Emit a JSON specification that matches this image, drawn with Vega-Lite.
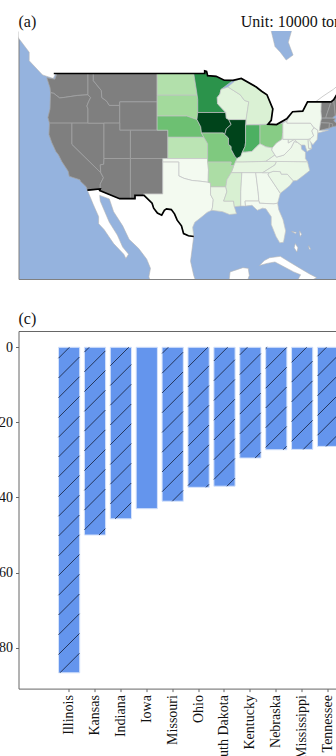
{"$schema":"https://vega.github.io/schema/vega-lite/v6.json","padding":{"left":-2.5,"top":13,"right":0,"bottom":0},"spacing":30,"background":"white","config":{"font":"Liberation Serif","title":{"font":"Liberation Serif","fontSize":16,"fontWeight":"normal","anchor":"start","offset":4,"color":"#111"}},
"datasets":{
"production":[{"s":"ND","v":32},{"s":"SD","v":37},{"s":"NE","v":52},{"s":"KS","v":29},{"s":"OK","v":3},{"s":"TX","v":3},{"s":"MN","v":72},{"s":"IA","v":100},{"s":"MO","v":47},{"s":"AR","v":34},{"s":"LA","v":10},{"s":"WI","v":14},{"s":"IL","v":100},{"s":"MS","v":18},{"s":"MI","v":17},{"s":"IN","v":60},{"s":"OH","v":45},{"s":"KY","v":14},{"s":"TN","v":12},{"s":"AL","v":4},{"s":"GA","v":4},{"s":"FL","v":3},{"s":"SC","v":9},{"s":"NC","v":9},{"s":"VA","v":7},{"s":"WV","v":4},{"s":"PA","v":6},{"s":"NY","v":5},{"s":"MD","v":8},{"s":"DE","v":8},{"s":"NJ","v":5}],
"land":[
{"s":"CA1","x":-132,"y":57},{"s":"CA1","x":-130.6,"y":55},{"s":"CA1","x":-130,"y":54},{"s":"CA1","x":-128,"y":52},{"s":"CA1","x":-128,"y":50.8},{"s":"CA1","x":-125.5,"y":48.8},{"s":"CA1","x":-123.5,"y":48.3},{"s":"CA1","x":-123,"y":49},{"s":"CA1","x":-95.15,"y":49},{"s":"CA1","x":-95.15,"y":49.38},{"s":"CA1","x":-94.8,"y":49.3},{"s":"CA1","x":-94.6,"y":48.7},{"s":"CA1","x":-93,"y":48.6},{"s":"CA1","x":-91.5,"y":48.05},{"s":"CA1","x":-89.85,"y":48.03},{"s":"CA1","x":-88.3,"y":48.3},{"s":"CA1","x":-85.5,"y":47.1},{"s":"CA1","x":-84.5,"y":46.5},{"s":"CA1","x":-83.5,"y":46},{"s":"CA1","x":-82.4,"y":44},{"s":"CA1","x":-82.7,"y":42.4},{"s":"CA1","x":-83.3,"y":41.9},{"s":"CA1","x":-81.7,"y":41.8},{"s":"CA1","x":-79.8,"y":42.3},{"s":"CA1","x":-78.7,"y":43.6},{"s":"CA1","x":-76.8,"y":43.7},{"s":"CA1","x":-75.9,"y":45},{"s":"CA1","x":-71.5,"y":45},{"s":"CA1","x":-71,"y":45.3},{"s":"CA1","x":-70.3,"y":46.2},{"s":"CA1","x":-69.2,"y":47.45},{"s":"CA1","x":-68.3,"y":47.3},{"s":"CA1","x":-67.8,"y":45.7},{"s":"CA1","x":-66,"y":44},{"s":"CA1","x":-60,"y":44},{"s":"CA1","x":-60,"y":57},
{"s":"MX","x":-117.1,"y":32.5},{"s":"MX","x":-114.7,"y":32.7},{"s":"MX","x":-114.8,"y":32.5},{"s":"MX","x":-111.07,"y":31.33},{"s":"MX","x":-108.2,"y":31.33},{"s":"MX","x":-108.2,"y":31.8},{"s":"MX","x":-106.5,"y":31.8},{"s":"MX","x":-105,"y":30.7},{"s":"MX","x":-104.7,"y":30},{"s":"MX","x":-104,"y":29.3},{"s":"MX","x":-103.2,"y":29},{"s":"MX","x":-102.7,"y":29.7},{"s":"MX","x":-102.3,"y":29.9},{"s":"MX","x":-101.4,"y":29.8},{"s":"MX","x":-100.8,"y":29.2},{"s":"MX","x":-100.3,"y":28.3},{"s":"MX","x":-99.5,"y":27.5},{"s":"MX","x":-99.1,"y":26.4},{"s":"MX","x":-98.2,"y":26.1},{"s":"MX","x":-97.2,"y":26},{"s":"MX","x":-97.8,"y":22.5},{"s":"MX","x":-97.2,"y":20.5},{"s":"MX","x":-96.5,"y":19},{"s":"MX","x":-105,"y":19},{"s":"MX","x":-105.6,"y":20.3},{"s":"MX","x":-105.3,"y":21.5},{"s":"MX","x":-106,"y":22.8},{"s":"MX","x":-107.5,"y":24.3},{"s":"MX","x":-109.3,"y":25.6},{"s":"MX","x":-110.5,"y":27.5},{"s":"MX","x":-112.2,"y":29.5},{"s":"MX","x":-113,"y":31.3},{"s":"MX","x":-114.8,"y":31.8},{"s":"MX","x":-114.7,"y":31},{"s":"MX","x":-113,"y":28},{"s":"MX","x":-111.5,"y":26.2},{"s":"MX","x":-110.5,"y":24.5},{"s":"MX","x":-109.4,"y":23.5},{"s":"MX","x":-109.9,"y":22.9},{"s":"MX","x":-110.3,"y":23.5},{"s":"MX","x":-112.2,"y":25},{"s":"MX","x":-114,"y":27},{"s":"MX","x":-115,"y":27.8},{"s":"MX","x":-115,"y":28.8},{"s":"MX","x":-116,"y":30.5},
{"s":"YU","x":-90.7,"y":19},{"s":"YU","x":-90.4,"y":21},{"s":"YU","x":-88,"y":21.6},{"s":"YU","x":-87,"y":21.5},{"s":"YU","x":-86.8,"y":20.5},{"s":"YU","x":-87.5,"y":19},
{"s":"CU","x":-84.9,"y":21.9},{"s":"CU","x":-84,"y":22.6},{"s":"CU","x":-83,"y":23},{"s":"CU","x":-81,"y":23.2},{"s":"CU","x":-79.5,"y":22.5},{"s":"CU","x":-77.5,"y":21.6},{"s":"CU","x":-75.5,"y":20.7},{"s":"CU","x":-74.2,"y":20.2},{"s":"CU","x":-74.9,"y":19.9},{"s":"CU","x":-77.7,"y":19.9},{"s":"CU","x":-77.2,"y":20.6},{"s":"CU","x":-78.5,"y":21},{"s":"CU","x":-80.5,"y":21.8},{"s":"CU","x":-82,"y":22.4},{"s":"CU","x":-83.5,"y":22.2},
{"s":"B1","x":-78.2,"y":25},{"s":"B1","x":-77.7,"y":24.4},{"s":"B1","x":-77.9,"y":23.8},{"s":"B1","x":-78.4,"y":24.4},
{"s":"B2","x":-78.9,"y":26.7},{"s":"B2","x":-78,"y":26.6},{"s":"B2","x":-78.1,"y":26.4},
{"s":"B3","x":-77.4,"y":26.8},{"s":"B3","x":-77,"y":26.3},{"s":"B3","x":-77.3,"y":26},
{"s":"B4","x":-75.7,"y":24.7},{"s":"B4","x":-75.3,"y":24.2},{"s":"B4","x":-75.6,"y":24.2}],
"water":[{"s":"JB","x":-82.7,"y":57},{"s":"JB","x":-82.7,"y":55},{"s":"JB","x":-82,"y":52.8},{"s":"JB","x":-81,"y":52},{"s":"JB","x":-79.9,"y":50.9},{"s":"JB","x":-78.6,"y":51.6},{"s":"JB","x":-79.5,"y":53.4},{"s":"JB","x":-78.9,"y":55},{"s":"JB","x":-78.9,"y":57}],
"noData":[
{"s":"WA","x":-124.7,"y":48.4},{"s":"WA","x":-123.2,"y":48.2},{"s":"WA","x":-122.8,"y":49},{"s":"WA","x":-117,"y":49},{"s":"WA","x":-117,"y":46},{"s":"WA","x":-119,"y":45.9},{"s":"WA","x":-121.2,"y":45.65},{"s":"WA","x":-122.3,"y":45.55},{"s":"WA","x":-123.4,"y":46.2},{"s":"WA","x":-124,"y":46.3},{"s":"WA","x":-124.1,"y":47},
{"s":"OR","x":-124,"y":46.3},{"s":"OR","x":-123.4,"y":46.2},{"s":"OR","x":-122.3,"y":45.55},{"s":"OR","x":-121.2,"y":45.65},{"s":"OR","x":-119,"y":45.9},{"s":"OR","x":-117,"y":46},{"s":"OR","x":-116.5,"y":45.6},{"s":"OR","x":-116.9,"y":45},{"s":"OR","x":-117.2,"y":44.4},{"s":"OR","x":-117,"y":44},{"s":"OR","x":-117,"y":42},{"s":"OR","x":-124.2,"y":42},{"s":"OR","x":-124.5,"y":42.8},{"s":"OR","x":-124.1,"y":44},
{"s":"CA","x":-124.2,"y":42},{"s":"CA","x":-120,"y":42},{"s":"CA","x":-120,"y":39},{"s":"CA","x":-114.6,"y":35},{"s":"CA","x":-114.1,"y":34.3},{"s":"CA","x":-114.7,"y":33.4},{"s":"CA","x":-114.7,"y":32.7},{"s":"CA","x":-117.1,"y":32.5},{"s":"CA","x":-117.3,"y":33},{"s":"CA","x":-118.4,"y":33.8},{"s":"CA","x":-118.5,"y":34},{"s":"CA","x":-120.5,"y":34.5},{"s":"CA","x":-120.7,"y":35.2},{"s":"CA","x":-121.9,"y":36.6},{"s":"CA","x":-122.5,"y":37.5},{"s":"CA","x":-123,"y":38},{"s":"CA","x":-123.8,"y":39.3},{"s":"CA","x":-124.3,"y":40.4},
{"s":"NV","x":-120,"y":42},{"s":"NV","x":-114,"y":42},{"s":"NV","x":-114,"y":37},{"s":"NV","x":-114.05,"y":36.2},{"s":"NV","x":-114.7,"y":36.1},{"s":"NV","x":-114.6,"y":35},{"s":"NV","x":-120,"y":39},
{"s":"ID","x":-117,"y":49},{"s":"ID","x":-116,"y":49},{"s":"ID","x":-116,"y":48},{"s":"ID","x":-114.5,"y":46.6},{"s":"ID","x":-114.4,"y":45.6},{"s":"ID","x":-113.5,"y":45.1},{"s":"ID","x":-113,"y":44.5},{"s":"ID","x":-111.05,"y":44.5},{"s":"ID","x":-111.05,"y":42},{"s":"ID","x":-117,"y":42},{"s":"ID","x":-117,"y":44},{"s":"ID","x":-117.2,"y":44.4},{"s":"ID","x":-116.9,"y":45},{"s":"ID","x":-116.5,"y":45.6},{"s":"ID","x":-117,"y":46},
{"s":"MT","x":-116,"y":49},{"s":"MT","x":-104.05,"y":49},{"s":"MT","x":-104.05,"y":45},{"s":"MT","x":-111.05,"y":45},{"s":"MT","x":-111.05,"y":44.5},{"s":"MT","x":-113,"y":44.5},{"s":"MT","x":-113.5,"y":45.1},{"s":"MT","x":-114.4,"y":45.6},{"s":"MT","x":-114.5,"y":46.6},{"s":"MT","x":-116,"y":48},
{"s":"WY","x":-111.05,"y":45},{"s":"WY","x":-104.05,"y":45},{"s":"WY","x":-104.05,"y":41},{"s":"WY","x":-111.05,"y":41},
{"s":"UT","x":-114,"y":42},{"s":"UT","x":-111.05,"y":42},{"s":"UT","x":-111.05,"y":41},{"s":"UT","x":-109.05,"y":41},{"s":"UT","x":-109.05,"y":37},{"s":"UT","x":-114,"y":37},
{"s":"AZ","x":-114.7,"y":36.1},{"s":"AZ","x":-114.05,"y":36.2},{"s":"AZ","x":-114,"y":37},{"s":"AZ","x":-109.05,"y":37},{"s":"AZ","x":-109.05,"y":31.33},{"s":"AZ","x":-111.07,"y":31.33},{"s":"AZ","x":-114.8,"y":32.5},{"s":"AZ","x":-114.7,"y":32.7},{"s":"AZ","x":-114.7,"y":33.4},{"s":"AZ","x":-114.1,"y":34.3},{"s":"AZ","x":-114.6,"y":35},
{"s":"CO","x":-109.05,"y":41},{"s":"CO","x":-102.05,"y":41},{"s":"CO","x":-102.05,"y":37},{"s":"CO","x":-109.05,"y":37},
{"s":"NM","x":-109.05,"y":37},{"s":"NM","x":-103,"y":37},{"s":"NM","x":-103,"y":32},{"s":"NM","x":-106.6,"y":32},{"s":"NM","x":-106.5,"y":31.8},{"s":"NM","x":-108.2,"y":31.8},{"s":"NM","x":-108.2,"y":31.33},{"s":"NM","x":-109.05,"y":31.33},
{"s":"VT","x":-73.35,"y":45},{"s":"VT","x":-71.5,"y":45},{"s":"VT","x":-72.4,"y":43},{"s":"VT","x":-72.45,"y":42.73},{"s":"VT","x":-73.3,"y":42.7},{"s":"VT","x":-73.4,"y":43.6},
{"s":"NH","x":-71.5,"y":45},{"s":"NH","x":-71,"y":45.3},{"s":"NH","x":-70.7,"y":43.1},{"s":"NH","x":-71.3,"y":42.7},{"s":"NH","x":-72.45,"y":42.73},{"s":"NH","x":-72.4,"y":43},
{"s":"MA","x":-73.3,"y":42.7},{"s":"MA","x":-71.3,"y":42.7},{"s":"MA","x":-70.7,"y":42.6},{"s":"MA","x":-71,"y":42.3},{"s":"MA","x":-70,"y":41.7},{"s":"MA","x":-71.2,"y":41.5},{"s":"MA","x":-71.8,"y":42},{"s":"MA","x":-73.5,"y":42.05},
{"s":"CT","x":-73.5,"y":42.05},{"s":"CT","x":-71.8,"y":42},{"s":"CT","x":-71.85,"y":41.3},{"s":"CT","x":-73.7,"y":40.95},
{"s":"RI","x":-71.8,"y":42},{"s":"RI","x":-71.2,"y":41.9},{"s":"RI","x":-71.2,"y":41.5},{"s":"RI","x":-71.85,"y":41.3},
{"s":"ME","x":-71,"y":45.3},{"s":"ME","x":-70.3,"y":46.2},{"s":"ME","x":-69.2,"y":47.45},{"s":"ME","x":-68.3,"y":47.3},{"s":"ME","x":-67.8,"y":45.7},{"s":"ME","x":-67,"y":44.9},{"s":"ME","x":-70.7,"y":43.1}],
"states":[
{"s":"ND","x":-104.05,"y":49},{"s":"ND","x":-97.2,"y":49},{"s":"ND","x":-96.56,"y":45.94},{"s":"ND","x":-104.05,"y":45.94},
{"s":"SD","x":-104.05,"y":45.94},{"s":"SD","x":-96.56,"y":45.94},{"s":"SD","x":-96.45,"y":45.3},{"s":"SD","x":-96.45,"y":43.5},{"s":"SD","x":-96.6,"y":42.5},{"s":"SD","x":-98.5,"y":43},{"s":"SD","x":-104.05,"y":43},
{"s":"NE","x":-104.05,"y":43},{"s":"NE","x":-98.5,"y":43},{"s":"NE","x":-96.6,"y":42.5},{"s":"NE","x":-95.9,"y":41.5},{"s":"NE","x":-95.75,"y":40.6},{"s":"NE","x":-95.3,"y":40},{"s":"NE","x":-102.05,"y":40},{"s":"NE","x":-102.05,"y":41},{"s":"NE","x":-104.05,"y":41},
{"s":"KS","x":-102.05,"y":40},{"s":"KS","x":-95.3,"y":40},{"s":"KS","x":-94.6,"y":39.1},{"s":"KS","x":-94.6,"y":37},{"s":"KS","x":-102.05,"y":37},
{"s":"OK","x":-103,"y":37},{"s":"OK","x":-94.6,"y":37},{"s":"OK","x":-94.45,"y":35.4},{"s":"OK","x":-94.5,"y":33.65},{"s":"OK","x":-96,"y":33.8},{"s":"OK","x":-97.5,"y":33.9},{"s":"OK","x":-99,"y":34.2},{"s":"OK","x":-100,"y":34.55},{"s":"OK","x":-100,"y":36.5},{"s":"OK","x":-103,"y":36.5},
{"s":"TX","x":-106.6,"y":32},{"s":"TX","x":-103,"y":32},{"s":"TX","x":-103,"y":36.5},{"s":"TX","x":-100,"y":36.5},{"s":"TX","x":-100,"y":34.55},{"s":"TX","x":-99,"y":34.2},{"s":"TX","x":-97.5,"y":33.9},{"s":"TX","x":-96,"y":33.8},{"s":"TX","x":-94.5,"y":33.65},{"s":"TX","x":-94.05,"y":33.55},{"s":"TX","x":-94.05,"y":31.9},{"s":"TX","x":-93.55,"y":31.2},{"s":"TX","x":-93.7,"y":30.1},{"s":"TX","x":-93.85,"y":29.7},{"s":"TX","x":-94.7,"y":29.4},{"s":"TX","x":-95.8,"y":28.7},{"s":"TX","x":-97,"y":28},{"s":"TX","x":-97.4,"y":27.3},{"s":"TX","x":-97.2,"y":26},{"s":"TX","x":-98.2,"y":26.1},{"s":"TX","x":-99.1,"y":26.4},{"s":"TX","x":-99.5,"y":27.5},{"s":"TX","x":-100.3,"y":28.3},{"s":"TX","x":-100.8,"y":29.2},{"s":"TX","x":-101.4,"y":29.8},{"s":"TX","x":-102.3,"y":29.9},{"s":"TX","x":-102.7,"y":29.7},{"s":"TX","x":-103.2,"y":29},{"s":"TX","x":-104,"y":29.3},{"s":"TX","x":-104.7,"y":30},{"s":"TX","x":-105,"y":30.7},{"s":"TX","x":-106.5,"y":31.8},
{"s":"MN","x":-97.2,"y":49},{"s":"MN","x":-95.15,"y":49},{"s":"MN","x":-95.15,"y":49.38},{"s":"MN","x":-94.8,"y":49.3},{"s":"MN","x":-94.6,"y":48.7},{"s":"MN","x":-93,"y":48.6},{"s":"MN","x":-91.5,"y":48.05},{"s":"MN","x":-89.85,"y":48.03},{"s":"MN","x":-92.1,"y":46.75},{"s":"MN","x":-92.3,"y":46.1},{"s":"MN","x":-92.8,"y":45.6},{"s":"MN","x":-92.75,"y":44.75},{"s":"MN","x":-91.2,"y":43.5},{"s":"MN","x":-96.45,"y":43.5},{"s":"MN","x":-96.45,"y":45.3},{"s":"MN","x":-96.56,"y":45.94},
{"s":"IA","x":-96.45,"y":43.5},{"s":"IA","x":-91.2,"y":43.5},{"s":"IA","x":-91.1,"y":42.7},{"s":"IA","x":-90.65,"y":42.5},{"s":"IA","x":-90.2,"y":41.8},{"s":"IA","x":-91.1,"y":41.2},{"s":"IA","x":-91.4,"y":40.4},{"s":"IA","x":-91.7,"y":40.6},{"s":"IA","x":-95.75,"y":40.6},{"s":"IA","x":-95.9,"y":41.5},{"s":"IA","x":-96.6,"y":42.5},
{"s":"MO","x":-95.75,"y":40.6},{"s":"MO","x":-91.7,"y":40.6},{"s":"MO","x":-91.4,"y":40.4},{"s":"MO","x":-90.7,"y":39.9},{"s":"MO","x":-90.7,"y":39},{"s":"MO","x":-90.2,"y":38.7},{"s":"MO","x":-90.2,"y":38.3},{"s":"MO","x":-89.5,"y":37.3},{"s":"MO","x":-89.1,"y":37},{"s":"MO","x":-89.4,"y":36.5},{"s":"MO","x":-89.7,"y":36},{"s":"MO","x":-90.35,"y":36},{"s":"MO","x":-90.2,"y":36.5},{"s":"MO","x":-94.6,"y":36.5},{"s":"MO","x":-94.6,"y":39.1},{"s":"MO","x":-95.3,"y":40},
{"s":"IL","x":-90.65,"y":42.5},{"s":"IL","x":-87.4,"y":42.5},{"s":"IL","x":-87.5,"y":41.75},{"s":"IL","x":-87.5,"y":39.3},{"s":"IL","x":-87.6,"y":38.7},{"s":"IL","x":-88.1,"y":37.9},{"s":"IL","x":-88.4,"y":37.3},{"s":"IL","x":-89.1,"y":37},{"s":"IL","x":-89.5,"y":37.3},{"s":"IL","x":-90.2,"y":38.3},{"s":"IL","x":-90.2,"y":38.7},{"s":"IL","x":-90.7,"y":39},{"s":"IL","x":-90.7,"y":39.9},{"s":"IL","x":-91.4,"y":40.4},{"s":"IL","x":-91.1,"y":41.2},{"s":"IL","x":-90.2,"y":41.8},
{"s":"WI","x":-92.1,"y":46.75},{"s":"WI","x":-90.8,"y":47.1},{"s":"WI","x":-88.5,"y":46},{"s":"WI","x":-87.7,"y":45.2},{"s":"WI","x":-86.9,"y":45},{"s":"WI","x":-87.4,"y":42.5},{"s":"WI","x":-90.65,"y":42.5},{"s":"WI","x":-91.1,"y":42.7},{"s":"WI","x":-91.2,"y":43.5},{"s":"WI","x":-92.75,"y":44.75},{"s":"WI","x":-92.8,"y":45.6},{"s":"WI","x":-92.3,"y":46.1},
{"s":"MI","x":-90.8,"y":47.1},{"s":"MI","x":-89.5,"y":47.95},{"s":"MI","x":-88.3,"y":48.3},{"s":"MI","x":-85.5,"y":47.1},{"s":"MI","x":-84.5,"y":46.5},{"s":"MI","x":-83.5,"y":46},{"s":"MI","x":-82.4,"y":44},{"s":"MI","x":-82.7,"y":42.4},{"s":"MI","x":-83.3,"y":41.85},{"s":"MI","x":-87.4,"y":41.75},{"s":"MI","x":-87.4,"y":42.5},{"s":"MI","x":-86.9,"y":45},{"s":"MI","x":-87.7,"y":45.2},{"s":"MI","x":-88.5,"y":46},
{"s":"IN","x":-87.5,"y":41.75},{"s":"IN","x":-84.8,"y":41.75},{"s":"IN","x":-84.8,"y":39.1},{"s":"IN","x":-85.4,"y":38.7},{"s":"IN","x":-86.3,"y":38},{"s":"IN","x":-87.6,"y":37.9},{"s":"IN","x":-88.1,"y":37.9},{"s":"IN","x":-87.6,"y":38.7},{"s":"IN","x":-87.5,"y":39.3},
{"s":"OH","x":-84.8,"y":41.75},{"s":"OH","x":-83.3,"y":41.85},{"s":"OH","x":-81.7,"y":41.8},{"s":"OH","x":-80.52,"y":42},{"s":"OH","x":-80.52,"y":40.6},{"s":"OH","x":-80.7,"y":39.7},{"s":"OH","x":-81.7,"y":39.2},{"s":"OH","x":-82.5,"y":38.5},{"s":"OH","x":-83.7,"y":38.65},{"s":"OH","x":-84.8,"y":39.1},
{"s":"KY","x":-89.4,"y":36.5},{"s":"KY","x":-88.1,"y":36.5},{"s":"KY","x":-83.7,"y":36.6},{"s":"KY","x":-82,"y":37.5},{"s":"KY","x":-82.6,"y":38.2},{"s":"KY","x":-82.5,"y":38.5},{"s":"KY","x":-83.7,"y":38.65},{"s":"KY","x":-84.8,"y":39.1},{"s":"KY","x":-85.4,"y":38.7},{"s":"KY","x":-86.3,"y":38},{"s":"KY","x":-87.6,"y":37.9},{"s":"KY","x":-88.1,"y":37.9},{"s":"KY","x":-88.4,"y":37.3},{"s":"KY","x":-89.1,"y":37},
{"s":"TN","x":-90.2,"y":35},{"s":"TN","x":-88.2,"y":35},{"s":"TN","x":-85.6,"y":35},{"s":"TN","x":-84.3,"y":35},{"s":"TN","x":-82,"y":36.1},{"s":"TN","x":-81.7,"y":36.6},{"s":"TN","x":-83.7,"y":36.6},{"s":"TN","x":-88.1,"y":36.5},{"s":"TN","x":-89.4,"y":36.5},{"s":"TN","x":-89.7,"y":36},
{"s":"AR","x":-94.6,"y":36.5},{"s":"AR","x":-90.2,"y":36.5},{"s":"AR","x":-90.35,"y":36},{"s":"AR","x":-89.7,"y":36},{"s":"AR","x":-90.2,"y":35},{"s":"AR","x":-91,"y":34},{"s":"AR","x":-91.2,"y":33},{"s":"AR","x":-94.05,"y":33},{"s":"AR","x":-94.05,"y":33.55},{"s":"AR","x":-94.5,"y":33.65},{"s":"AR","x":-94.45,"y":35.4},
{"s":"LA","x":-94.05,"y":33},{"s":"LA","x":-91.2,"y":33},{"s":"LA","x":-91,"y":32.3},{"s":"LA","x":-91.6,"y":31},{"s":"LA","x":-89.75,"y":31},{"s":"LA","x":-89.6,"y":30.2},{"s":"LA","x":-89.2,"y":29.2},{"s":"LA","x":-90.5,"y":29.1},{"s":"LA","x":-91.8,"y":29.5},{"s":"LA","x":-93.85,"y":29.7},{"s":"LA","x":-93.7,"y":30.1},{"s":"LA","x":-93.55,"y":31.2},{"s":"LA","x":-94.05,"y":31.9},
{"s":"MS","x":-91.2,"y":33},{"s":"MS","x":-91,"y":34},{"s":"MS","x":-90.2,"y":35},{"s":"MS","x":-88.2,"y":35},{"s":"MS","x":-88.4,"y":32.3},{"s":"MS","x":-88.4,"y":30.3},{"s":"MS","x":-89.6,"y":30.2},{"s":"MS","x":-89.75,"y":31},{"s":"MS","x":-91.6,"y":31},{"s":"MS","x":-91,"y":32.3},
{"s":"AL","x":-88.2,"y":35},{"s":"AL","x":-85.6,"y":35},{"s":"AL","x":-85.15,"y":32.3},{"s":"AL","x":-85,"y":31},{"s":"AL","x":-87.6,"y":31},{"s":"AL","x":-87.5,"y":30.3},{"s":"AL","x":-88.4,"y":30.3},{"s":"AL","x":-88.4,"y":32.3},
{"s":"GA","x":-85.6,"y":35},{"s":"GA","x":-83.1,"y":35},{"s":"GA","x":-83.3,"y":34.7},{"s":"GA","x":-81,"y":32.1},{"s":"GA","x":-81.5,"y":30.7},{"s":"GA","x":-82.2,"y":30.6},{"s":"GA","x":-84.9,"y":30.7},{"s":"GA","x":-85,"y":31},{"s":"GA","x":-85.15,"y":32.3},
{"s":"FL","x":-87.6,"y":31},{"s":"FL","x":-85,"y":31},{"s":"FL","x":-84.9,"y":30.7},{"s":"FL","x":-82.2,"y":30.6},{"s":"FL","x":-81.5,"y":30.7},{"s":"FL","x":-81.3,"y":29.8},{"s":"FL","x":-80.5,"y":28.4},{"s":"FL","x":-80,"y":26.8},{"s":"FL","x":-80.4,"y":25.2},{"s":"FL","x":-81.1,"y":25.1},{"s":"FL","x":-81.8,"y":26},{"s":"FL","x":-82.7,"y":27.7},{"s":"FL","x":-82.7,"y":28.8},{"s":"FL","x":-83.7,"y":29.9},{"s":"FL","x":-84.3,"y":30},{"s":"FL","x":-85.3,"y":29.7},{"s":"FL","x":-86.3,"y":30.4},{"s":"FL","x":-87.5,"y":30.3},
{"s":"SC","x":-83.1,"y":35},{"s":"SC","x":-82.3,"y":35.2},{"s":"SC","x":-81,"y":35.15},{"s":"SC","x":-80.8,"y":34.8},{"s":"SC","x":-79.7,"y":34.8},{"s":"SC","x":-78.55,"y":33.85},{"s":"SC","x":-79.2,"y":33.2},{"s":"SC","x":-80.5,"y":32.4},{"s":"SC","x":-81,"y":32.1},{"s":"SC","x":-83.3,"y":34.7},
{"s":"NC","x":-84.3,"y":35},{"s":"NC","x":-82,"y":36.1},{"s":"NC","x":-81.7,"y":36.6},{"s":"NC","x":-75.9,"y":36.55},{"s":"NC","x":-75.5,"y":35.3},{"s":"NC","x":-76.5,"y":34.7},{"s":"NC","x":-77.9,"y":33.9},{"s":"NC","x":-78.55,"y":33.85},{"s":"NC","x":-79.7,"y":34.8},{"s":"NC","x":-80.8,"y":34.8},{"s":"NC","x":-81,"y":35.15},{"s":"NC","x":-82.3,"y":35.2},{"s":"NC","x":-83.1,"y":35},
{"s":"VA","x":-83.7,"y":36.6},{"s":"VA","x":-75.9,"y":36.55},{"s":"VA","x":-76.3,"y":37},{"s":"VA","x":-76.3,"y":37.9},{"s":"VA","x":-77,"y":38.3},{"s":"VA","x":-77.1,"y":38.9},{"s":"VA","x":-77.8,"y":39.3},{"s":"VA","x":-78.4,"y":39.4},{"s":"VA","x":-79,"y":38.5},{"s":"VA","x":-80.3,"y":37.5},{"s":"VA","x":-81.7,"y":37.2},{"s":"VA","x":-82,"y":37.5},
{"s":"WV","x":-82,"y":37.5},{"s":"WV","x":-81.7,"y":37.2},{"s":"WV","x":-80.3,"y":37.5},{"s":"WV","x":-79,"y":38.5},{"s":"WV","x":-78.4,"y":39.4},{"s":"WV","x":-77.8,"y":39.3},{"s":"WV","x":-78.4,"y":39.7},{"s":"WV","x":-79.5,"y":39.2},{"s":"WV","x":-79.5,"y":39.72},{"s":"WV","x":-80.52,"y":39.72},{"s":"WV","x":-80.52,"y":40.6},{"s":"WV","x":-80.7,"y":39.7},{"s":"WV","x":-81.7,"y":39.2},{"s":"WV","x":-82.5,"y":38.5},{"s":"WV","x":-82.6,"y":38.2},
{"s":"MD","x":-79.5,"y":39.72},{"s":"MD","x":-75.8,"y":39.72},{"s":"MD","x":-75.7,"y":38.45},{"s":"MD","x":-75.1,"y":38.4},{"s":"MD","x":-76,"y":38},{"s":"MD","x":-76.4,"y":38.9},{"s":"MD","x":-77.1,"y":38.9},{"s":"MD","x":-77.8,"y":39.3},{"s":"MD","x":-78.4,"y":39.7},{"s":"MD","x":-79.5,"y":39.2},
{"s":"DE","x":-75.8,"y":39.72},{"s":"DE","x":-75.4,"y":39.8},{"s":"DE","x":-75.1,"y":38.45},{"s":"DE","x":-75.7,"y":38.45},
{"s":"PA","x":-80.52,"y":42},{"s":"PA","x":-79.76,"y":42.3},{"s":"PA","x":-79.76,"y":42},{"s":"PA","x":-75.35,"y":42},{"s":"PA","x":-74.7,"y":41.35},{"s":"PA","x":-75.1,"y":40.9},{"s":"PA","x":-74.75,"y":40.2},{"s":"PA","x":-75.4,"y":39.8},{"s":"PA","x":-75.8,"y":39.72},{"s":"PA","x":-80.52,"y":39.72},
{"s":"NY","x":-79.76,"y":42.3},{"s":"NY","x":-78.7,"y":43.6},{"s":"NY","x":-76.8,"y":43.7},{"s":"NY","x":-75.9,"y":45},{"s":"NY","x":-73.35,"y":45},{"s":"NY","x":-73.4,"y":43.6},{"s":"NY","x":-73.3,"y":42.7},{"s":"NY","x":-73.5,"y":42.05},{"s":"NY","x":-73.7,"y":40.95},{"s":"NY","x":-72,"y":41},{"s":"NY","x":-74,"y":40.6},{"s":"NY","x":-74,"y":41},{"s":"NY","x":-74.7,"y":41.35},{"s":"NY","x":-75.35,"y":42},{"s":"NY","x":-79.76,"y":42},
{"s":"NJ","x":-74.7,"y":41.35},{"s":"NJ","x":-74,"y":41},{"s":"NJ","x":-74,"y":40.5},{"s":"NJ","x":-74.1,"y":39.7},{"s":"NJ","x":-74.9,"y":38.95},{"s":"NJ","x":-75.5,"y":39.5},{"s":"NJ","x":-75.4,"y":39.8},{"s":"NJ","x":-74.75,"y":40.2},{"s":"NJ","x":-75.1,"y":40.9}],
"border":[
{"s":"north","x":-123.4,"y":49},{"s":"north","x":-95.15,"y":49},{"s":"north","x":-95.15,"y":49.38},{"s":"north","x":-94.8,"y":49.3},{"s":"north","x":-94.6,"y":48.7},{"s":"north","x":-93,"y":48.6},{"s":"north","x":-91.5,"y":48.05},{"s":"north","x":-89.85,"y":48.03},{"s":"north","x":-88.3,"y":48.3},{"s":"north","x":-85.5,"y":47.1},{"s":"north","x":-84.5,"y":46.5},{"s":"north","x":-83.5,"y":46},{"s":"north","x":-82.4,"y":44},{"s":"north","x":-82.7,"y":42.4},{"s":"north","x":-83.3,"y":41.85},{"s":"north","x":-81.7,"y":41.8},{"s":"north","x":-79.8,"y":42.6},{"s":"north","x":-78.7,"y":43.6},{"s":"north","x":-76.8,"y":43.7},{"s":"north","x":-75.9,"y":45},{"s":"north","x":-71.5,"y":45},{"s":"north","x":-71,"y":45.3},{"s":"north","x":-70.3,"y":46.2},{"s":"north","x":-69.2,"y":47.45},
{"s":"south","x":-117.1,"y":32.55},{"s":"south","x":-114.7,"y":32.7},{"s":"south","x":-114.8,"y":32.5},{"s":"south","x":-111.07,"y":31.33},{"s":"south","x":-108.2,"y":31.33},{"s":"south","x":-108.2,"y":31.8},{"s":"south","x":-106.5,"y":31.8},{"s":"south","x":-105,"y":30.7},{"s":"south","x":-104.7,"y":30},{"s":"south","x":-104,"y":29.3},{"s":"south","x":-103.2,"y":29},{"s":"south","x":-102.7,"y":29.7},{"s":"south","x":-102.3,"y":29.9},{"s":"south","x":-101.4,"y":29.8},{"s":"south","x":-100.8,"y":29.2},{"s":"south","x":-100.3,"y":28.3},{"s":"south","x":-99.5,"y":27.5},{"s":"south","x":-99.1,"y":26.4},{"s":"south","x":-98.2,"y":26.1},{"s":"south","x":-97.2,"y":26}],
"river":[{"s":"stl","x":-74.6,"y":44.9},{"s":"stl","x":-73,"y":45.8},{"s":"stl","x":-71,"y":46.8},{"s":"stl","x":-69.5,"y":47.8}],
"bars":[{"state":"Illinois","value":86.7},{"state":"Kansas","value":50},{"state":"Indiana","value":45.7},{"state":"Iowa","value":43},{"state":"Missouri","value":41},{"state":"Ohio","value":37.3},{"state":"South Dakota","value":37},{"state":"Kentucky","value":29.5},{"state":"Nebraska","value":27.3},{"state":"Mississippi","value":27.2},{"state":"Tennessee","value":26.4}],
"hatch":[
{"u1":0.095,"v1":2.92,"u2":0.518,"v2":0},{"u1":0.095,"v1":8.18,"u2":0.905,"v2":2.59},{"u1":0.095,"v1":13.44,"u2":0.905,"v2":7.85},{"u1":0.095,"v1":18.7,"u2":0.905,"v2":13.11},{"u1":0.095,"v1":23.96,"u2":0.905,"v2":18.37},{"u1":0.095,"v1":29.22,"u2":0.905,"v2":23.63},{"u1":0.095,"v1":34.48,"u2":0.905,"v2":28.89},{"u1":0.095,"v1":39.74,"u2":0.905,"v2":34.15},{"u1":0.095,"v1":45,"u2":0.905,"v2":39.41},{"u1":0.095,"v1":50.26,"u2":0.905,"v2":44.67},{"u1":0.095,"v1":55.52,"u2":0.905,"v2":49.93},{"u1":0.095,"v1":60.78,"u2":0.905,"v2":55.19},{"u1":0.095,"v1":66.04,"u2":0.905,"v2":60.45},{"u1":0.095,"v1":71.3,"u2":0.905,"v2":65.71},{"u1":0.095,"v1":76.56,"u2":0.905,"v2":70.97},{"u1":0.095,"v1":81.82,"u2":0.905,"v2":76.23},{"u1":0.15,"v1":86.7,"u2":0.905,"v2":81.49},
{"u1":1.095,"v1":1.29,"u2":1.282,"v2":0},{"u1":1.095,"v1":6.55,"u2":1.905,"v2":0.96},{"u1":1.095,"v1":11.81,"u2":1.905,"v2":6.22},{"u1":1.095,"v1":17.07,"u2":1.905,"v2":11.48},{"u1":1.095,"v1":22.33,"u2":1.905,"v2":16.74},{"u1":1.095,"v1":27.59,"u2":1.905,"v2":22},{"u1":1.095,"v1":32.85,"u2":1.905,"v2":27.26},{"u1":1.095,"v1":38.11,"u2":1.905,"v2":32.52},{"u1":1.095,"v1":43.37,"u2":1.905,"v2":37.78},{"u1":1.095,"v1":48.63,"u2":1.905,"v2":43.04},{"u1":1.659,"v1":50,"u2":1.905,"v2":48.3},
{"u1":2.095,"v1":4.92,"u2":2.808,"v2":0},{"u1":2.095,"v1":10.18,"u2":2.905,"v2":4.59},{"u1":2.095,"v1":15.44,"u2":2.905,"v2":9.85},{"u1":2.095,"v1":20.7,"u2":2.905,"v2":15.11},{"u1":2.095,"v1":25.96,"u2":2.905,"v2":20.37},{"u1":2.095,"v1":31.22,"u2":2.905,"v2":25.63},{"u1":2.095,"v1":36.48,"u2":2.905,"v2":30.89},{"u1":2.095,"v1":41.74,"u2":2.905,"v2":36.15},{"u1":2.284,"v1":45.7,"u2":2.905,"v2":41.41},
{"u1":4.095,"v1":1.65,"u2":4.334,"v2":0},{"u1":4.095,"v1":6.91,"u2":4.905,"v2":1.32},{"u1":4.095,"v1":12.17,"u2":4.905,"v2":6.58},{"u1":4.095,"v1":17.43,"u2":4.905,"v2":11.84},{"u1":4.095,"v1":22.69,"u2":4.905,"v2":17.1},{"u1":4.095,"v1":27.95,"u2":4.905,"v2":22.36},{"u1":4.095,"v1":33.21,"u2":4.905,"v2":27.62},{"u1":4.095,"v1":38.47,"u2":4.905,"v2":32.88},{"u1":4.491,"v1":41,"u2":4.905,"v2":38.14},
{"u1":5.095,"v1":5.28,"u2":5.861,"v2":0},{"u1":5.095,"v1":10.54,"u2":5.905,"v2":4.95},{"u1":5.095,"v1":15.8,"u2":5.905,"v2":10.21},{"u1":5.095,"v1":21.06,"u2":5.905,"v2":15.47},{"u1":5.095,"v1":26.32,"u2":5.905,"v2":20.73},{"u1":5.095,"v1":31.58,"u2":5.905,"v2":25.99},{"u1":5.095,"v1":36.84,"u2":5.905,"v2":31.25},{"u1":5.791,"v1":37.3,"u2":5.905,"v2":36.51},
{"u1":6.095,"v1":3.65,"u2":6.624,"v2":0},{"u1":6.095,"v1":8.91,"u2":6.905,"v2":3.32},{"u1":6.095,"v1":14.17,"u2":6.905,"v2":8.58},{"u1":6.095,"v1":19.43,"u2":6.905,"v2":13.84},{"u1":6.095,"v1":24.69,"u2":6.905,"v2":19.1},{"u1":6.095,"v1":29.95,"u2":6.905,"v2":24.36},{"u1":6.095,"v1":35.21,"u2":6.905,"v2":29.62},{"u1":6.598,"v1":37,"u2":6.905,"v2":34.88},
{"u1":7.095,"v1":2.02,"u2":7.388,"v2":0},{"u1":7.095,"v1":7.28,"u2":7.905,"v2":1.69},{"u1":7.095,"v1":12.54,"u2":7.905,"v2":6.95},{"u1":7.095,"v1":17.8,"u2":7.905,"v2":12.21},{"u1":7.095,"v1":23.06,"u2":7.905,"v2":17.47},{"u1":7.095,"v1":28.32,"u2":7.905,"v2":22.73},{"u1":7.687,"v1":29.5,"u2":7.905,"v2":27.99},
{"u1":8.095,"v1":0.39,"u2":8.152,"v2":0},{"u1":8.095,"v1":5.65,"u2":8.905,"v2":0.06},{"u1":8.095,"v1":10.91,"u2":8.905,"v2":5.32},{"u1":8.095,"v1":16.17,"u2":8.905,"v2":10.58},{"u1":8.095,"v1":21.43,"u2":8.905,"v2":15.84},{"u1":8.095,"v1":26.69,"u2":8.905,"v2":21.1},{"u1":8.769,"v1":27.3,"u2":8.905,"v2":26.36},
{"u1":9.095,"v1":4.02,"u2":9.678,"v2":0},{"u1":9.095,"v1":9.28,"u2":9.905,"v2":3.69},{"u1":9.095,"v1":14.54,"u2":9.905,"v2":8.95},{"u1":9.095,"v1":19.8,"u2":9.905,"v2":14.21},{"u1":9.095,"v1":25.06,"u2":9.905,"v2":19.47},{"u1":9.547,"v1":27.2,"u2":9.905,"v2":24.73},
{"u1":10.095,"v1":2.39,"u2":10.442,"v2":0},{"u1":10.095,"v1":7.65,"u2":10.905,"v2":2.06},{"u1":10.095,"v1":12.91,"u2":10.905,"v2":7.32},{"u1":10.095,"v1":18.17,"u2":10.905,"v2":12.58},{"u1":10.095,"v1":23.43,"u2":10.905,"v2":17.84},{"u1":10.427,"v1":26.4,"u2":10.905,"v2":23.1}]
},
"vconcat":[
{"width":374,"height":248,"view":{"fill":"#95b3de","stroke":"#808080","strokeWidth":1},
"encoding":{"x":{"field":"x","type":"quantitative","axis":null,"scale":{"domain":[-130,-60],"nice":false,"zero":false}},"y":{"field":"y","type":"quantitative","axis":null,"scale":{"domain":[20,55],"nice":false,"zero":false}}},
"layer":[
{"data":{"name":"land"},"transform":[{"window":[{"op":"row_number","as":"i"}]}],"mark":{"type":"line","clip":true,"fill":"white","stroke":"#b5b5b5","strokeWidth":0.6,"interpolate":"linear-closed"},"encoding":{"detail":{"field":"s"},"order":{"field":"i","type":"quantitative"}}},
{"data":{"name":"water"},"transform":[{"window":[{"op":"row_number","as":"i"}]}],"mark":{"type":"line","clip":true,"fill":"#95b3de","stroke":"#b5b5b5","strokeWidth":0.5,"interpolate":"linear-closed"},"encoding":{"detail":{"field":"s"},"order":{"field":"i","type":"quantitative"}}},
{"data":{"name":"river"},"transform":[{"window":[{"op":"row_number","as":"i"}]}],"mark":{"type":"line","clip":true,"stroke":"#c0c0c0","strokeWidth":0.8},"encoding":{"detail":{"field":"s"},"order":{"field":"i","type":"quantitative"}}},
{"data":{"name":"noData"},"transform":[{"window":[{"op":"row_number","as":"i"}]}],"mark":{"type":"line","clip":true,"fill":"#7f7f7f","stroke":"#a3a3a3","strokeWidth":0.8,"interpolate":"linear-closed"},"encoding":{"detail":{"field":"s"},"order":{"field":"i","type":"quantitative"}}},
{"data":{"name":"states"},"transform":[{"window":[{"op":"row_number","as":"i"}]},{"lookup":"s","from":{"data":{"name":"production"},"key":"s","fields":["v"]}}],"mark":{"type":"line","clip":true,"stroke":"#c4c4c4","strokeWidth":0.7,"interpolate":"linear-closed"},"encoding":{"detail":{"field":"s"},"order":{"field":"i","type":"quantitative"},"fill":{"field":"v","type":"quantitative","legend":null,"scale":{"domain":[0,12.5,25,37.5,50,62.5,75,87.5,100],"range":["#f7fcf5","#e5f5e0","#c7e9c0","#a1d99b","#74c476","#41ab5d","#238b45","#006d2c","#00441b"]}}}},
{"data":{"name":"border"},"transform":[{"window":[{"op":"row_number","as":"i"}]}],"mark":{"type":"line","clip":true,"stroke":"#000000","strokeWidth":1.7},"encoding":{"detail":{"field":"s"},"order":{"field":"i","type":"quantitative"}}},
{"data":{"values":[{"x":-88.4,"y":55.6,"t":"Unit: 10000 tons"},{"x":-130,"y":55.6,"t":"(a)"}]},"mark":{"type":"text","align":"left","baseline":"alphabetic","fontSize":16,"font":"Liberation Serif","color":"#111"},"encoding":{"text":{"field":"t"}}}
]},
{"width":332,"height":357.6,"title":{"text":"(c)","frame":"group"},"view":{"stroke":"#666666","strokeWidth":1},
"resolve":{"scale":{"x":"independent"}},
"layer":[
{"data":{"name":"bars"},"mark":{"type":"bar","fill":"#6495ed","stroke":"#d6e3fb","strokeWidth":1},"encoding":{"x":{"field":"state","type":"nominal","sort":null,"title":null,"scale":{"type":"band","paddingInner":0.18,"paddingOuter":1,"align":0.772},"axis":{"labelAngle":270,"labelFont":"Liberation Serif","labelFontSize":14,"labelColor":"#111","labelLimit":1000,"labelPadding":3,"tickSize":3,"tickColor":"#666","domain":false,"labelOverlap":false}},"y":{"field":"value","type":"quantitative","title":null,"scale":{"domain":[-4.33,90.9],"reverse":true,"nice":false,"zero":false},"axis":{"values":[0,20,40,60,80],"grid":false,"labelFont":"Liberation Serif","labelFontSize":14,"labelColor":"#111","labelPadding":3,"tickSize":3,"tickColor":"#666","domain":false}}}},
{"data":{"name":"hatch"},"mark":{"type":"rule","stroke":"#1d2b4d","strokeWidth":0.9},"encoding":{"x":{"field":"u1","type":"quantitative","axis":null,"scale":{"domain":[-1.449,11.369],"nice":false,"zero":false}},"x2":{"field":"u2"},"y":{"field":"v1","type":"quantitative"},"y2":{"field":"v2"}}}
]}
]}
